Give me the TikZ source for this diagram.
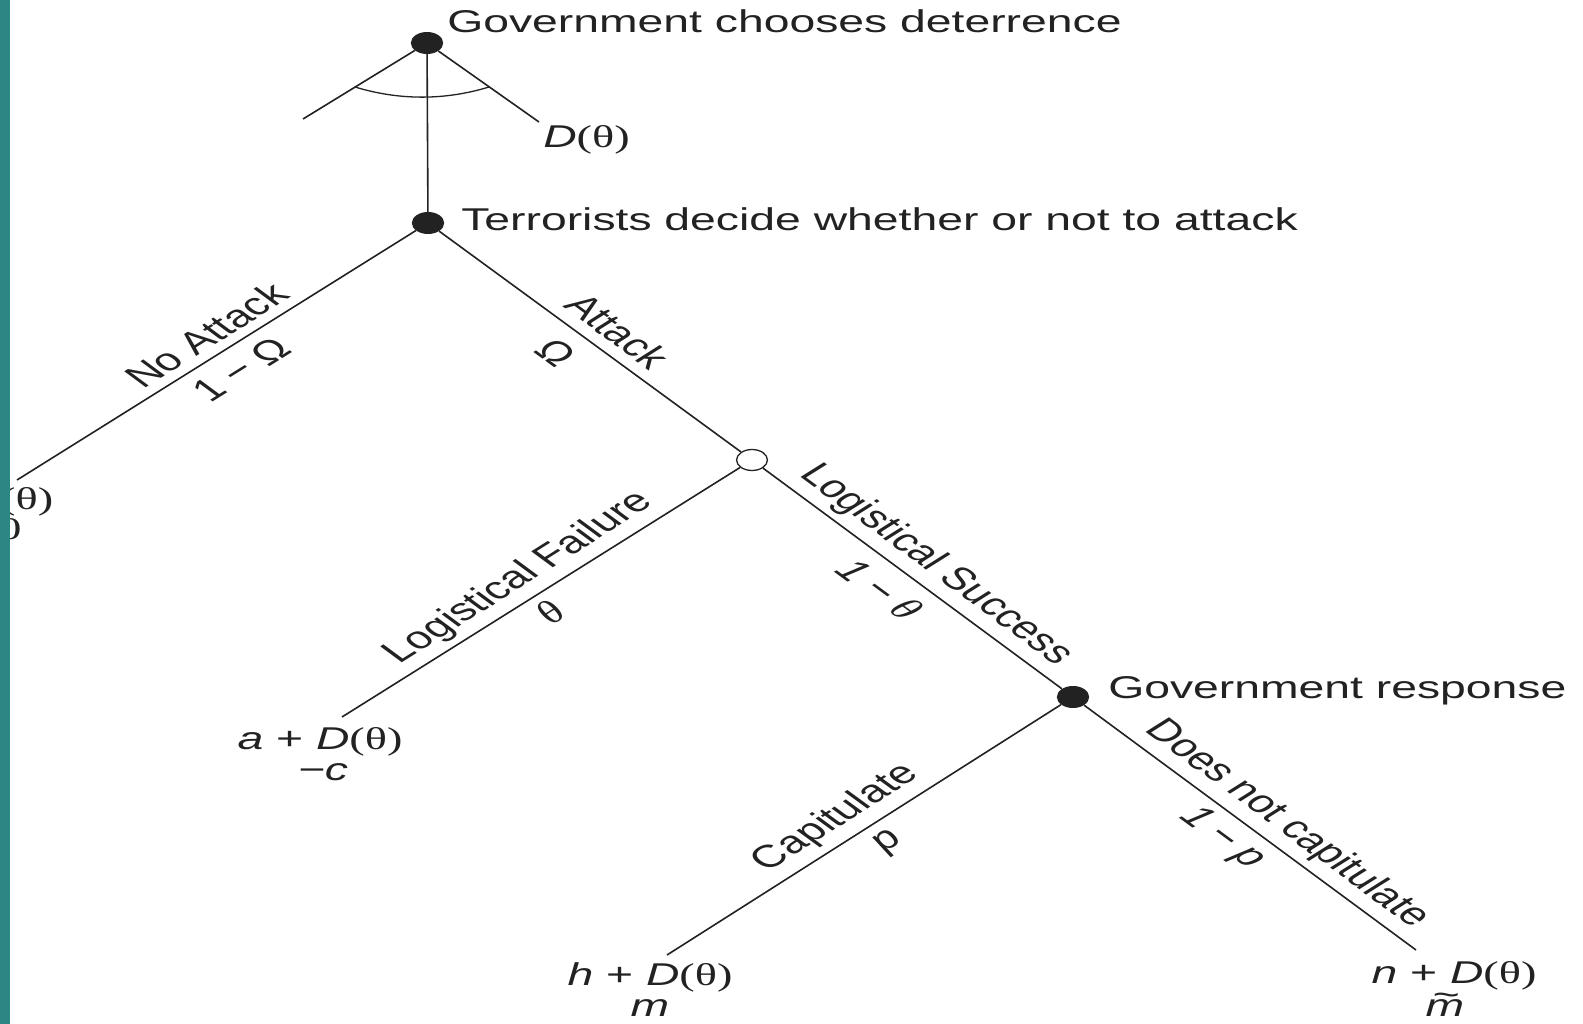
\documentclass[tikz,border=0pt]{standalone}
\usepackage{fontspec}
\setmainfont{Liberation Sans}
\newfontfamily\serf{Liberation Serif}
\definecolor{stripc}{RGB}{46,134,132}
\definecolor{ink}{RGB}{34,34,34}
\newcommand{\thup}{{\serf θ}}
\newcommand{\thit}{{\serf\itshape θ}}
\newcommand{\mtilde}{\textit{\makebox[0pt][l]{\raisebox{0.32em}{\hspace{0.14em}\char"7E}}m}}
\begin{document}
\begin{tikzpicture}[x=1pt,y=-1pt,
  stretch/.style={xscale=1.47, transform shape},
  txt/.style={font=\fontsize{31.5}{33}\selectfont, text=ink, inner sep=0pt, stretch},
  blackdot/.style={circle, fill=ink, draw=none, minimum size=22pt, inner sep=0pt, stretch},
  chance/.style={circle, fill=white, draw=ink, line width=1.3pt, minimum size=21pt, inner sep=0pt, stretch},
  branch/.style={draw=ink, line width=1.6pt},
]
\fill[white] (0,0) rectangle (1583,1024);
\useasboundingbox (0,0) rectangle (1583,1024);
% decision and chance nodes
\node[shift={(427,43)}, blackdot] (g0) {};
\node[shift={(428,223)}, blackdot] (t) {};
\node[shift={(752,460)}, chance] (c) {};
\node[shift={(1073,697)}, blackdot] (gr) {};
% free ends
\coordinate (dl) at (303,119);
\coordinate (dr) at (539,122);
\coordinate (al) at (355,87);
\coordinate (ar) at (489,87);
\coordinate (na) at (17,480);
\coordinate (lf) at (342,717);
\coordinate (cp) at (667,955);
\coordinate (nc) at (1416,950);
% branches
\draw[branch] (g0) -- (dl);
\draw[branch] (g0) -- (dr);
\draw[branch] (g0) -- (t);
\draw[branch, line width=1.3pt] (al) .. controls (399,100.5) and (445,100.5) .. (ar);
\draw[branch] (t) -- (na);
\draw[branch] (t) -- (c);
\draw[branch] (c) -- (lf);
\draw[branch] (c) -- (gr);
\draw[branch] (gr) -- (cp);
\draw[branch] (gr) -- (nc);
% node texts
\node[shift={(447,33)}, txt, anchor=base west] (tg0) {Government chooses deterrence};
\node[shift={(461,231)}, txt, anchor=base west] (tt) {Terrorists decide whether or not to attack};
\node[shift={(1108,698)}, txt, anchor=base west] (tgr) {Government response};
\node[shift={(543,148)}, txt, anchor=base west] (dth) {\textit{D}{\serf(θ)}};
% branch labels
\node[shift={(206,335)}, txt, rotate=42.6] (lna) {No Attack};
\node[shift={(241,369)}, txt, rotate=42.6] (pna) {1 − Ω};
\node[shift={(618,331)}, txt, rotate=-47.1] (lat) {Attack};
\node[shift={(556,353)}, txt, rotate=-47.1] (pat) {Ω};
\node[shift={(519,578)}, txt, rotate=42.7] (llf) {Logistical Failure};
\node[shift={(550,612)}, txt, rotate=42.7] (plf) {\thit};
\node[shift={(936,565)}, txt, rotate=-47.3] (lls) {Logistical Success};
\node[shift={(880,589)}, txt, rotate=-47.3] (pls) {\textit{1 −} \thit};
\node[shift={(836,818)}, txt, rotate=43] (lcp) {Capitulate};
\node[shift={(890,843)}, txt, rotate=43] (pcp) {\textit{p}};
\node[shift={(1287,824)}, txt, rotate=-47.3] (lnc) {Does not capitulate};
\node[shift={(1222,838)}, txt, rotate=-47.3] (pnc) {\textit{1 − p}};
% payoffs
\node[shift={(10,509)}, txt, anchor=base] (p0a) {\textit{D}{\serf(θ)}};
\node[shift={(10,539)}, txt, anchor=base] (p0b) {{\serf 0}};
\node[shift={(320,749)}, txt, anchor=base] (p1a) {\textit{a} + \textit{D}{\serf(θ)}};
\node[shift={(323,780)}, txt, anchor=base] (p1b) {\textit{−c}};
\node[shift={(650,985)}, txt, anchor=base] (p2a) {\textit{h} + \textit{D}{\serf(θ)}};
\node[shift={(650,1016)}, txt, anchor=base] (p2b) {\textit{m}};
\node[shift={(1454,983)}, txt, anchor=base] (p3a) {\textit{n} + \textit{D}{\serf(θ)}};
\node[shift={(1445,1016)}, txt, anchor=base] (p3b) {\mtilde};
% slide edge
\fill[stripc] (0,0) rectangle (10,1024);
\end{tikzpicture}
\end{document}
